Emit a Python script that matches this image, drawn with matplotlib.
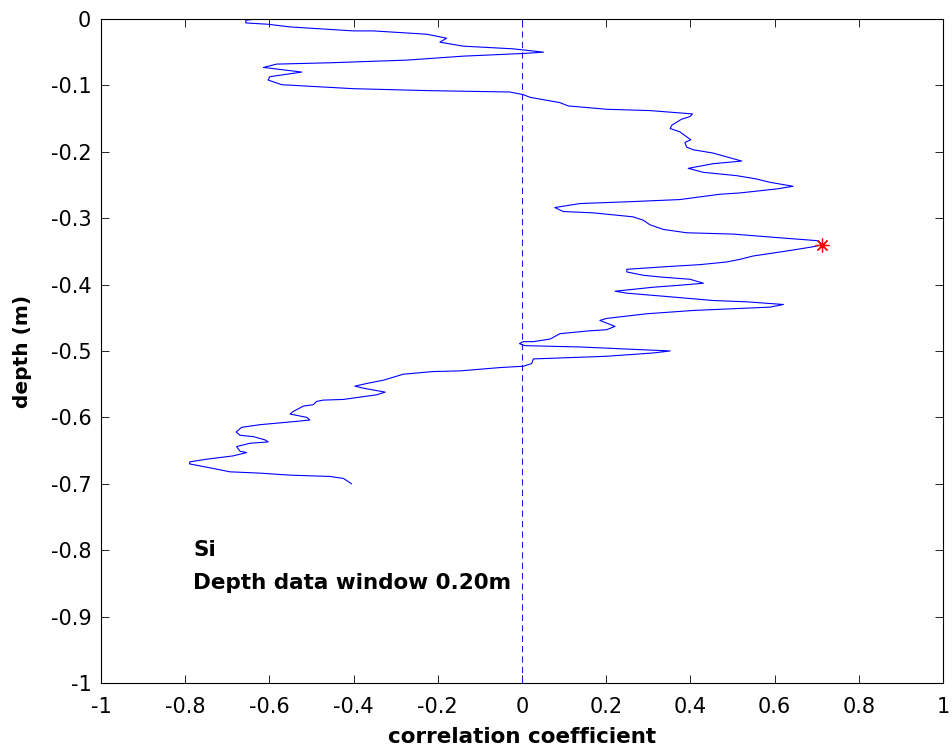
import matplotlib
matplotlib.use('Agg')
import matplotlib.pyplot as plt
import numpy as np

plt.rcParams['font.family'] = ['DejaVu Sans']

# correlation coefficient vs depth
corr = [-0.630, -0.656, -0.656, -0.603, -0.551, -0.401, -0.353, -0.226, -0.179, -0.195,
        -0.139, -0.021, 0.051, 0.003, -0.139, -0.274, -0.456, -0.583, -0.614, -0.523,
        -0.599, -0.603, -0.571, -0.401, -0.219, -0.029, 0.003, 0.019, 0.090, 0.110,
        0.201, 0.304, 0.405, 0.399, 0.379, 0.356, 0.352, 0.375, 0.401, 0.387,
        0.391, 0.407, 0.454, 0.522, 0.454, 0.395, 0.431, 0.510, 0.557, 0.589,
        0.644, 0.605, 0.518, 0.470, 0.375, 0.264, 0.138, 0.078, 0.098, 0.169,
        0.264, 0.288, 0.304, 0.336, 0.391, 0.502, 0.621, 0.704, 0.713, 0.692,
        0.644, 0.549, 0.518, 0.486, 0.423, 0.344, 0.249, 0.249, 0.288, 0.336,
        0.399, 0.431, 0.375, 0.312, 0.221, 0.249, 0.344, 0.454, 0.534, 0.621,
        0.589, 0.518, 0.407, 0.296, 0.201, 0.185, 0.221, 0.201, 0.154, 0.090,
        0.067, 0.027, 0.003, -0.006, 0.007, 0.138, 0.352, 0.312, 0.201, 0.027,
        0.023, 0.003, -0.052, -0.147, -0.211, -0.282, -0.329, -0.369, -0.397, -0.377,
        -0.325, -0.345, -0.424, -0.472, -0.488, -0.496, -0.519, -0.543, -0.551, -0.511,
        -0.504, -0.535, -0.622, -0.666, -0.679, -0.670, -0.638, -0.610, -0.603, -0.646,
        -0.678, -0.670, -0.654, -0.686, -0.749, -0.789, -0.790, -0.757, -0.725, -0.694,
        -0.622, -0.551, -0.456, -0.424, -0.405]
depth = [0.000, -0.002, -0.006, -0.008, -0.012, -0.018, -0.018, -0.023, -0.029, -0.035,
         -0.041, -0.045, -0.050, -0.052, -0.056, -0.062, -0.066, -0.068, -0.073, -0.080,
         -0.087, -0.092, -0.099, -0.105, -0.108, -0.110, -0.114, -0.118, -0.126, -0.131,
         -0.136, -0.138, -0.143, -0.147, -0.151, -0.160, -0.165, -0.170, -0.182, -0.186,
         -0.193, -0.197, -0.202, -0.214, -0.218, -0.225, -0.231, -0.236, -0.241, -0.246,
         -0.252, -0.256, -0.262, -0.264, -0.272, -0.275, -0.278, -0.284, -0.290, -0.292,
         -0.298, -0.303, -0.310, -0.317, -0.322, -0.324, -0.330, -0.334, -0.340, -0.343,
         -0.348, -0.357, -0.362, -0.366, -0.370, -0.373, -0.377, -0.381, -0.386, -0.389,
         -0.392, -0.398, -0.401, -0.404, -0.410, -0.413, -0.418, -0.424, -0.426, -0.430,
         -0.434, -0.436, -0.439, -0.444, -0.451, -0.454, -0.463, -0.468, -0.470, -0.474,
         -0.482, -0.486, -0.486, -0.489, -0.492, -0.494, -0.500, -0.503, -0.508, -0.512,
         -0.519, -0.523, -0.525, -0.530, -0.531, -0.535, -0.544, -0.549, -0.553, -0.556,
         -0.562, -0.566, -0.573, -0.574, -0.576, -0.581, -0.583, -0.591, -0.595, -0.600,
         -0.604, -0.606, -0.611, -0.615, -0.622, -0.627, -0.629, -0.634, -0.637, -0.639,
         -0.644, -0.651, -0.653, -0.658, -0.663, -0.667, -0.670, -0.674, -0.678, -0.682,
         -0.684, -0.687, -0.689, -0.692, -0.700]

# maximum correlation
best_corr = 0.713
best_depth = -0.340

xticks = [-1, -0.8, -0.6, -0.4, -0.2, 0, 0.2, 0.4, 0.6, 0.8, 1]
yticks = [0, -0.1, -0.2, -0.3, -0.4, -0.5, -0.6, -0.7, -0.8, -0.9, -1]

fig = plt.figure(figsize=(9.52, 7.55), dpi=100)
ax = fig.add_axes([0.1061, 0.0954, 0.8844, 0.8795])

ax.plot([0, 0], [-1, 0], color='#1a1ae6', lw=0.75, linestyle=(0, (6, 4)))
ax.plot(corr, depth, color='blue', lw=0.8)
ax.plot(best_corr, best_depth, marker=(8, 2, 0), color='red', markersize=10,
        markeredgewidth=0.9, linestyle='none')

ax.set_xlim(-1, 1)
ax.set_ylim(-1, 0)
ax.set_xticks(xticks)
ax.set_xticklabels(['-1', '-0.8', '-0.6', '-0.4', '-0.2', '0', '0.2', '0.4', '0.6', '0.8', '1'])
ax.set_yticks(yticks)
ax.set_yticklabels(['0', '-0.1', '-0.2', '-0.3', '-0.4', '-0.5', '-0.6', '-0.7', '-0.8', '-0.9', '-1'])
ax.tick_params(direction='in', length=6, width=0.6, labelsize=15,
               top=True, right=True, pad=7)
ax.tick_params(axis='x', pad=10)
for s in ax.spines.values():
    s.set_linewidth(0.8)

ax.set_xlabel('correlation coefficient', fontsize=15.5, fontweight='bold', labelpad=7)
ax.set_ylabel('depth (m)', fontsize=14.5, fontweight='bold', labelpad=13)

ax.text(-0.781, -0.80, 'Si', fontsize=15.5, fontweight='bold', va='center')
ax.text(-0.781, -0.849, 'Depth data window 0.20m', fontsize=15.5, fontweight='bold', va='center')

fig.savefig('out.png', dpi=100)
